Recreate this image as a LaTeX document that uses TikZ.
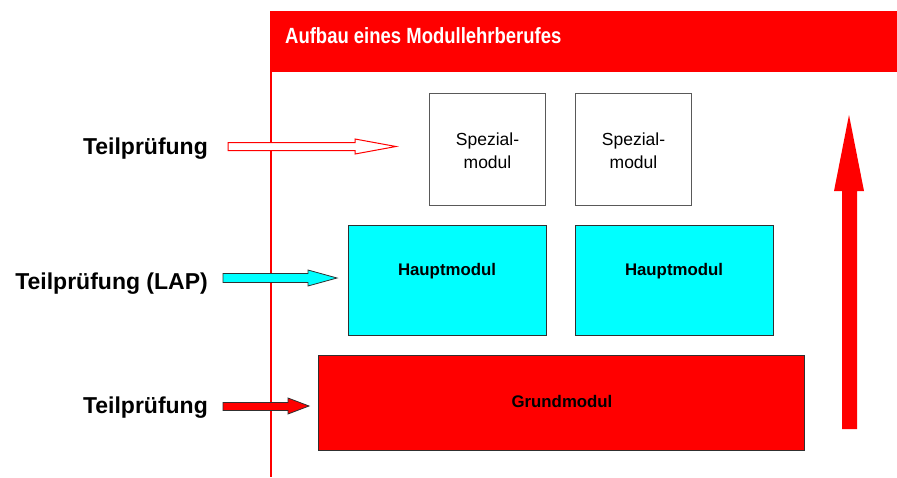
\documentclass[tikz,border=0pt]{standalone}
\usepackage{fontspec}
\setmainfont{Liberation Sans}
\newfontfamily\narrowbold{Liberation Sans}[FakeStretch=0.84,FakeBold=0]
\definecolor{mred}{HTML}{FF0000}
\definecolor{mcyan}{HTML}{00FFFF}
\definecolor{edge}{HTML}{303030}
\begin{document}
\begin{tikzpicture}[x=1pt,y=-1pt,
  modbox/.style={draw=edge,line width=1.1pt,inner sep=0pt,anchor=north west},
  lefttext/.style={font=\fontsize{23}{26}\selectfont\bfseries,anchor=base east,inner sep=0pt},
  boxtext/.style={font=\fontsize{16.8}{20}\selectfont\bfseries,inner sep=0pt,anchor=base},
  spztext/.style={font=\fontsize{17.5}{23}\selectfont,align=center,inner sep=0pt}]
\useasboundingbox (0,0) rectangle (897,477);
% header
\fill[mred] (271,11) rectangle (897,72);
\draw[mred,line width=2pt] (271,11) -- (271,477);
\node[anchor=base west,inner sep=0pt,text=white,font=\narrowbold\fontsize{22}{26}\selectfont\bfseries] (title) at (285,43) {Aufbau eines Modullehrberufes};
% Spezialmodule
\node[modbox,draw=edge!80,line width=1pt,fill=white,minimum width=116pt,minimum height=112pt] (s1) at (429,93) {};
\node[modbox,draw=edge!80,line width=1pt,fill=white,minimum width=116pt,minimum height=112pt] (s2) at (575,93) {};
\node[spztext] (s1t) at ([yshift=-1pt]s1.center) {Spezial-\\modul};
\node[spztext] (s2t) at ([yshift=-1pt]s2.center) {Spezial-\\modul};
% Hauptmodule
\node[modbox,fill=mcyan,minimum width=198pt,minimum height=110pt] (h1) at (348,225) {};
\node[modbox,fill=mcyan,minimum width=198pt,minimum height=110pt] (h2) at (575,225) {};
\node[boxtext] (h1t) at (447,275) {Hauptmodul};
\node[boxtext] (h2t) at (674,275) {Hauptmodul};
% Grundmodul
\node[modbox,fill=mred,minimum width=486pt,minimum height=95pt] (g) at (318,355) {};
\node[boxtext] (gt) at (562,407) {Grundmodul};
% left labels
\node[lefttext] (l1) at (208,154) {Teilprüfung};
\node[lefttext] (l2) at (208,289.5) {Teilprüfung (LAP)};
\node[lefttext] (l3) at (208,413) {Teilprüfung};
% arrows
\filldraw[fill=white,draw=mred,line width=1pt,line join=miter]
  (228,142.5) -- (355,142.5) -- (355,139) -- (396,146.5) -- (355,154) -- (355,150.5) -- (228,150.5) -- cycle;
\filldraw[fill=mcyan,draw=edge,line width=0.8pt,line join=miter]
  (223,273.5) -- (308,273.5) -- (308,270) -- (337,278) -- (308,286) -- (308,282.5) -- (223,282.5) -- cycle;
\filldraw[fill=mred,draw=edge,line width=0.8pt,line join=miter]
  (223,402.5) -- (288,402.5) -- (288,398) -- (309,406) -- (288,414) -- (288,410.5) -- (223,410.5) -- cycle;
\fill[mred] (842,429) -- (842,191) -- (834,191) -- (849,115) -- (864,191) -- (857,191) -- (857,429) -- cycle;
\end{tikzpicture}
\end{document}
